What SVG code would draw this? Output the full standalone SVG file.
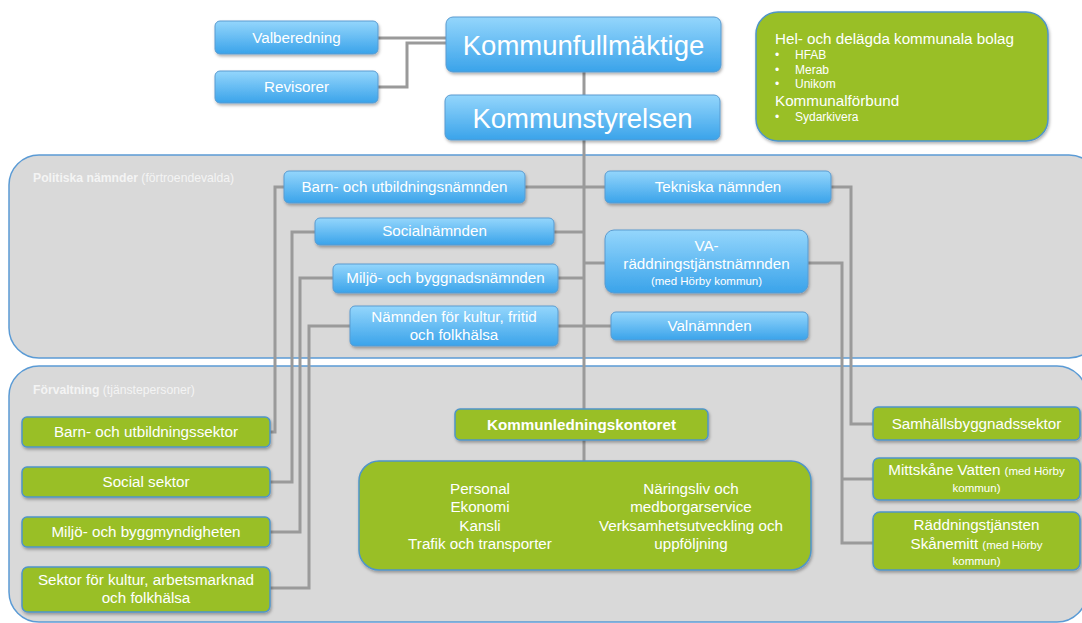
<svg xmlns="http://www.w3.org/2000/svg" width="1082" height="623" viewBox="0 0 1082 623">
<defs>
<linearGradient id="gb" x1="0" y1="0" x2="0" y2="1">
<stop offset="0" stop-color="#94d6fc"/>
<stop offset="1" stop-color="#3aa3ea"/>
</linearGradient>
<filter id="sh" x="-10%" y="-20%" width="120%" height="150%">
<feDropShadow dx="1" dy="2" stdDeviation="1.5" flood-color="#000" flood-opacity="0.3"/>
</filter>
<style>
text{font-family:"Liberation Sans",Arial,sans-serif;fill:#fff}
.blue{fill:url(#gb);stroke:#5a9bd0;stroke-width:1;filter:url(#sh)}
.green{fill:#99bf27;stroke:#4f95c9;stroke-width:1.5;filter:url(#sh)}
.panel{fill:#d9d9d9;stroke:#5b9bd5;stroke-width:1.5}
.c{fill:none;stroke:#9a9a9a;stroke-width:3}
.t14{font-size:15.2px;text-anchor:middle}
.t10{font-size:11.5px}
.bl{font-size:12px}
.big{font-size:27.5px;text-anchor:middle}
.lbl{font-size:12.2px;fill:#f4f4f4}
</style>
</defs>
<rect width="1082" height="623" fill="#fff"/>

<g id="panel-politiska">
<rect class="panel" x="9" y="155" width="1090" height="203" rx="30"/>
<text class="lbl" x="33" y="182"><tspan font-weight="bold">Politiska nämnder</tspan> (förtroendevalda)</text>
</g>
<g id="panel-forvaltning">
<rect class="panel" x="9" y="366" width="1078" height="256" rx="30"/>
<text class="lbl" x="33" y="394"><tspan font-weight="bold">Förvaltning</tspan> (tjänstepersoner)</text>
</g>

<g id="connectors">
<path class="c" d="M378 38 H446"/>
<path class="c" d="M378 87 H407 V43 H446"/>
<path class="c" d="M584 72 V462"/>
<path class="c" d="M525 187 H605"/>
<path class="c" d="M554 232 H584"/>
<path class="c" d="M558 278 H584"/>
<path class="c" d="M558 326 H611"/>
<path class="c" d="M584 263 H605"/>
<path class="c" d="M284 187 H275 V432 H270"/>
<path class="c" d="M315 232 H292 V482 H270"/>
<path class="c" d="M333 278 H300 V532 H270"/>
<path class="c" d="M350 326 H309 V588 H270"/>
<path class="c" d="M831 187 H851 V424 H873"/>
<path class="c" d="M808 263 H842 V543 H873"/>
<path class="c" d="M842 479 H873"/>
</g>

<g id="valberedning">
<rect class="blue" x="215" y="21" width="163" height="33" rx="5"/>
<text class="t14" x="296.5" y="43">Valberedning</text>
</g>
<g id="revisorer">
<rect class="blue" x="215" y="71" width="163" height="32" rx="5"/>
<text class="t14" x="296.5" y="92">Revisorer</text>
</g>
<g id="kommunfullmaktige">
<rect class="blue" x="446" y="17" width="275" height="55" rx="7"/>
<text class="big" x="583.5" y="55">Kommunfullmäktige</text>
</g>
<g id="kommunstyrelsen">
<rect class="blue" x="445" y="95" width="275" height="45" rx="6"/>
<text class="big" x="582.5" y="128">Kommunstyrelsen</text>
</g>
<g id="bolag">
<rect class="green" x="756" y="12" width="292" height="129" rx="22"/>
<text x="775" y="44" font-size="15.2">Hel- och delägda kommunala bolag</text>
<text x="775" y="59" class="bl">•<tspan x="795">HFAB</tspan></text>
<text x="775" y="74" class="bl">•<tspan x="795">Merab</tspan></text>
<text x="775" y="88" class="bl">•<tspan x="795">Unikom</tspan></text>
<text x="775" y="106" font-size="15.2">Kommunalförbund</text>
<text x="775" y="121" class="bl">•<tspan x="795">Sydarkivera</tspan></text>
</g>

<g id="barn-namnd">
<rect class="blue" x="284" y="171" width="241" height="32" rx="5"/>
<text class="t14" x="404.5" y="192">Barn- och utbildningsnämnden</text>
</g>
<g id="socialnamnden">
<rect class="blue" x="315" y="218" width="239" height="27" rx="5"/>
<text class="t14" x="434.5" y="236">Socialnämnden</text>
</g>
<g id="miljo-namnd">
<rect class="blue" x="333" y="264" width="225" height="29" rx="5"/>
<text class="t14" x="445.5" y="283">Miljö- och byggnadsnämnden</text>
</g>
<g id="kultur-namnd">
<rect class="blue" x="350" y="306" width="208" height="40" rx="5"/>
<text class="t14" x="454" y="322">Nämnden för kultur, fritid</text>
<text class="t14" x="454" y="340">och folkhälsa</text>
</g>
<g id="tekniska">
<rect class="blue" x="605" y="171" width="226" height="32" rx="5"/>
<text class="t14" x="718" y="192">Tekniska nämnden</text>
</g>
<g id="va-namnd">
<rect class="blue" x="605" y="230" width="203" height="63" rx="9"/>
<text class="t14" x="706.5" y="251">VA-</text>
<text class="t14" x="706.5" y="269">räddningstjänstnämnden</text>
<text class="t10" x="706.5" y="285" text-anchor="middle">(med Hörby kommun)</text>
</g>
<g id="valnamnden">
<rect class="blue" x="611" y="312" width="197" height="28" rx="5"/>
<text class="t14" x="709.5" y="331">Valnämnden</text>
</g>

<g id="barn-sektor">
<rect class="green" x="22" y="417" width="248" height="30" rx="5"/>
<text class="t14" x="146" y="437">Barn- och utbildningssektor</text>
</g>
<g id="social-sektor">
<rect class="green" x="22" y="467" width="248" height="30" rx="5"/>
<text class="t14" x="146" y="487">Social sektor</text>
</g>
<g id="miljo-sektor">
<rect class="green" x="22" y="517" width="248" height="30" rx="5"/>
<text class="t14" x="146" y="537">Miljö- och byggmyndigheten</text>
</g>
<g id="kultur-sektor">
<rect class="green" x="22" y="567" width="248" height="45" rx="6"/>
<text class="t14" x="146" y="585">Sektor för kultur, arbetsmarknad</text>
<text class="t14" x="146" y="603">och folkhälsa</text>
</g>

<g id="kommunledningskontoret">
<rect class="green" x="455" y="409" width="253" height="31" rx="5"/>
<text class="t14" x="581.5" y="430" font-weight="bold" font-size="14.4">Kommunledningskontoret</text>
</g>
<g id="klk-enheter">
<rect class="green" x="359" y="461" width="452" height="109" rx="20"/>
<text class="t14" x="480" y="494">Personal</text>
<text class="t14" x="480" y="512">Ekonomi</text>
<text class="t14" x="480" y="531">Kansli</text>
<text class="t14" x="480" y="549">Trafik och transporter</text>
<text class="t14" x="691" y="494">Näringsliv och</text>
<text class="t14" x="691" y="512">medborgarservice</text>
<text class="t14" x="691" y="531">Verksamhetsutveckling och</text>
<text class="t14" x="691" y="549">uppföljning</text>
</g>

<g id="samhallsbyggnad">
<rect class="green" x="873" y="407" width="207" height="33" rx="5"/>
<text class="t14" x="976.5" y="429">Samhällsbyggnadssektor</text>
</g>
<g id="mittskane">
<rect class="green" x="873" y="458" width="207" height="42" rx="6"/>
<text class="t14" x="976.5" y="475">Mittskåne Vatten <tspan font-size="11.5">(med Hörby</tspan></text>
<text class="t10" x="976.5" y="492" text-anchor="middle">kommun)</text>
</g>
<g id="raddningstjansten">
<rect class="green" x="873" y="512" width="207" height="58" rx="7"/>
<text class="t14" x="976.5" y="530">Räddningstjänsten</text>
<text class="t14" x="976.5" y="549">Skånemitt <tspan font-size="11.5">(med Hörby</tspan></text>
<text class="t10" x="976.5" y="565" text-anchor="middle">kommun)</text>
</g>
</svg>
